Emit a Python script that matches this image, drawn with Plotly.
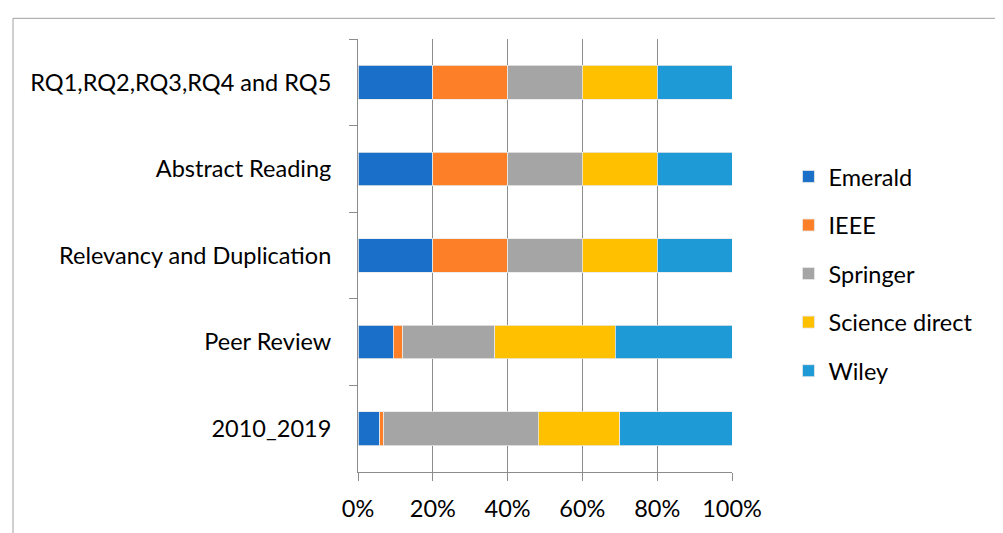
import plotly.graph_objects as go

categories = ["RQ1,RQ2,RQ3,RQ4 and RQ5", "Abstract Reading", "Relevancy and Duplication",
              "Peer Review", "2010_2019"]
series_names = ["Emerald", "IEEE", "Springer", "Science direct", "Wiley"]
emerald = [20, 20, 20, 9.4, 5.8]
ieee = [20, 20, 20, 2.6, 1.1]
springer = [20, 20, 20, 24.6, 41.3]
science_direct = [20, 20, 20, 32.2, 21.8]
wiley = [20, 20, 20, 31.2, 30.0]
x_ticks = [0, 0.2, 0.4, 0.6, 0.8, 1.0]

values = [emerald, ieee, springer, science_direct, wiley]
colors = ["#1A70C8", "#FD7F27", "#A5A5A5", "#FFC000", "#1E9BD7"]

FONT = "Lato, Carlito, Calibri, sans-serif"
FS = 23.5

fig = go.Figure()
for name, vals, col in zip(series_names, values, colors):
    fig.add_trace(go.Bar(
        y=categories, x=[v / 100 for v in vals], name=name, orientation="h",
        marker=dict(color=col, line=dict(color="#E8E8E8", width=0.8)),
        legendgroup=name,
    ))

fig.update_layout(
    barmode="stack",
    bargap=0.61,
    width=1003, height=533,
    margin=dict(l=350, r=279, t=31, b=69),
    paper_bgcolor="white", plot_bgcolor="white",
    font=dict(family=FONT, size=FS, color="#000000"),
    legend=dict(x=1.151, xanchor="left", y=0.458, yanchor="middle",
                traceorder="grouped", tracegroupgap=15,
                font=dict(family=FONT, size=FS, color="#000000")),
    xaxis=dict(range=[0, 1], tickvals=x_ticks, tickformat=".0%",
               showgrid=True, gridcolor="#8C8C8C", gridwidth=1,
               showline=True, linecolor="#8C8C8C", linewidth=1,
               ticks="outside", ticklen=8, tickcolor="#8C8C8C",
               ticklabelstandoff=8,
               zeroline=False, fixedrange=True),
    yaxis=dict(autorange="reversed", showline=True, linecolor="#8C8C8C", linewidth=1,
               ticks="outside", ticklen=8, tickcolor="#8C8C8C", tickson="boundaries",
               ticklabelstandoff=21, showgrid=False, fixedrange=True),
    shapes=[dict(type="rect", xref="paper", yref="paper",
                 x0=(13 - 358) / 374, x1=(1001 - 358) / 374,
                 y0=-0.3, y1=(472 - 18) / 433.3,
                 line=dict(color="#A0A0A0", width=1), fillcolor="rgba(0,0,0,0)",
                 layer="below")],
)

fig.write_html("out.html")
